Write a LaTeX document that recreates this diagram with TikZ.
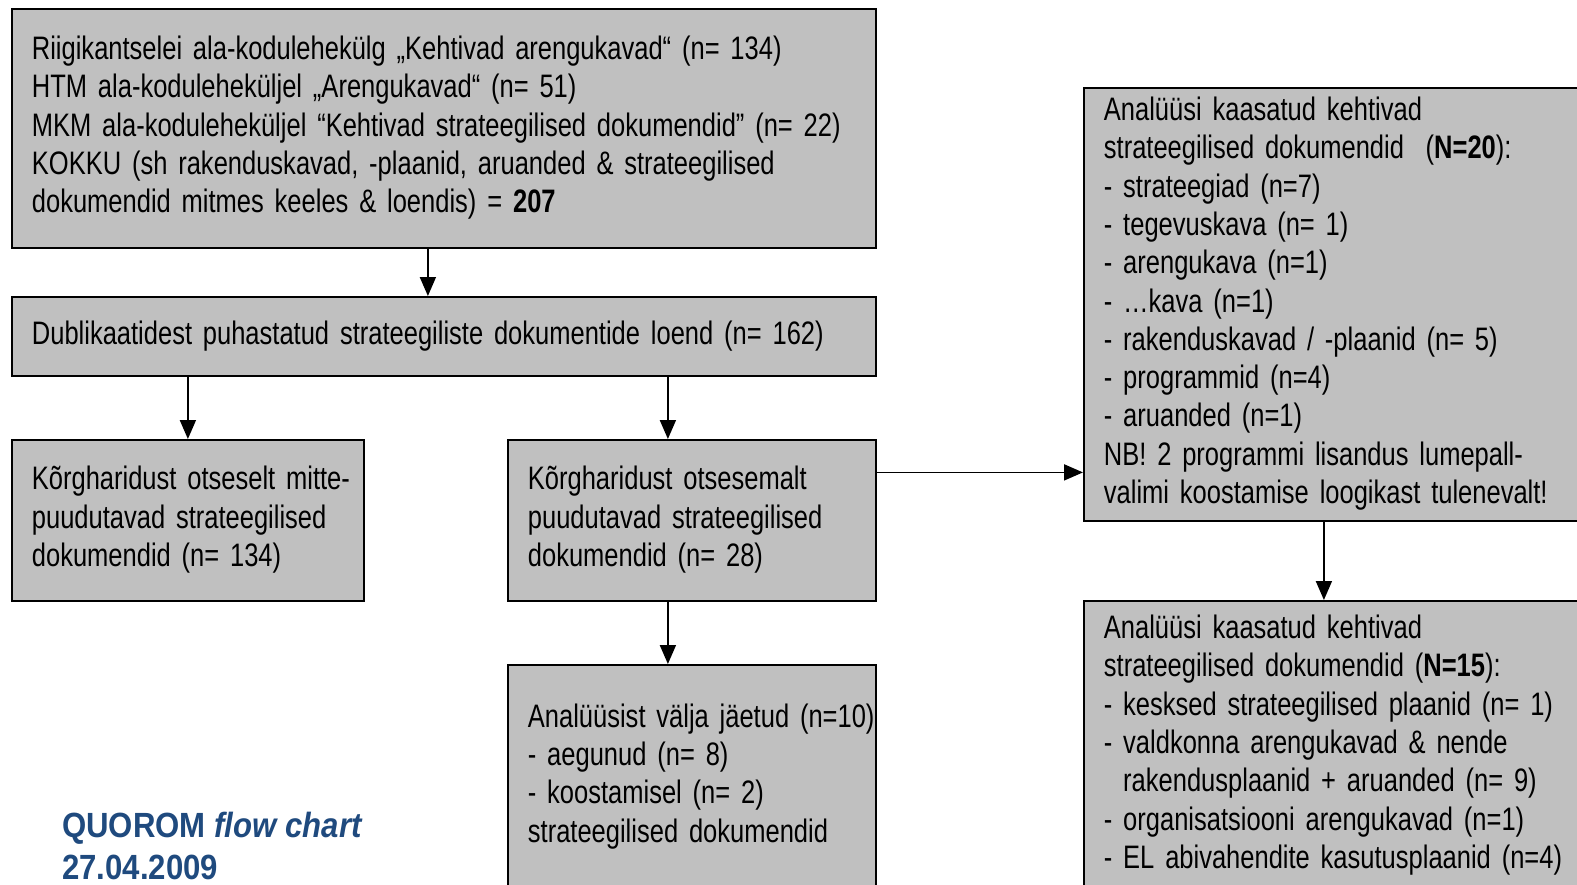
\documentclass[tikz,border=0pt]{standalone}
\usepackage{fontspec}
\setmainfont{Liberation Sans}[FakeStretch=0.785]
\newfontfamily\titlefont{Liberation Sans}[FakeStretch=0.89]
\usetikzlibrary{arrows.meta}
\definecolor{boxgray}{HTML}{C0C0C0}
\definecolor{quorom}{HTML}{1F4A7E}
\newcommand\boxfont{\fontsize{32.5}{38.3}\selectfont}
\newcommand\boxlines[1]{\begin{tabular}{@{}l@{}}#1\end{tabular}}

\begin{document}
\begin{tikzpicture}[x=1pt, y=-1pt, >={Triangle[length=19pt,width=16pt]},
    box/.style={draw=black, line width=1.8pt, fill=boxgray, rectangle, anchor=north west,
      inner xsep=20pt, inner ysep=0pt, align=left, font=\boxfont},
    link/.style={->, line width=1.8pt}]
    \useasboundingbox (0,0) rectangle (1577,884);
    \fill[white] (0,0) rectangle (1577,884);

    % Sources
    \node[box, text width=824pt, minimum height=239pt] (src) at (11,8)
      {\boxlines{Riigikantselei ala-kodulehekülg „Kehtivad arengukavad“ (n= 134)\\
       HTM ala-koduleheküljel „Arengukavad“ (n= 51)\\
       MKM ala-koduleheküljel “Kehtivad strateegilised dokumendid” (n= 22)\\
       KOKKU (sh rakenduskavad, -plaanid, aruanded \& strateegilised\\
       dokumendid mitmes keeles \& loendis) = \textbf{207}}};
    \node[box, text width=824pt, minimum height=79pt] (dedup) at (11,296)
      {\boxlines{Dublikaatidest puhastatud strateegiliste dokumentide loend (n= 162)}};

    % Split
    \node[box, text width=312pt, minimum height=161pt] (excl) at (11,439)
      {\boxlines{Kõrgharidust otseselt mitte-\\puudutavad strateegilised\\dokumendid (n= 134)}};
    \node[box, text width=328pt, minimum height=161pt] (incl) at (507,439)
      {\boxlines{Kõrgharidust otsesemalt\\puudutavad strateegilised\\dokumendid (n= 28)}};
    \node[box, text width=328pt, minimum height=224pt] (dropped) at (507,664)
      {\boxlines{Analüüsist välja jäetud (n=10)\\- aegunud (n= 8)\\- koostamisel (n= 2)\\strateegilised dokumendid}};

    % Included
    \node[box, text width=480pt, minimum height=433pt] (anal20) at (1083,87)
      {\boxlines{Analüüsi kaasatud kehtivad\\
       strateegilised dokumendid\ \ (\textbf{N=20}):\\
       - strateegiad (n=7)\\
       - tegevuskava (n= 1)\\
       - arengukava (n=1)\\
       - …kava (n=1)\\
       - rakenduskavad / -plaanid (n= 5)\\
       - programmid (n=4)\\
       - aruanded (n=1)\\
       NB! 2 programmi lisandus lumepall-\\
       valimi koostamise loogikast tulenevalt!}};
    \node[box, text width=480pt, minimum height=290pt] (anal15) at (1083,600)
      {\boxlines{Analüüsi kaasatud kehtivad\\
       strateegilised dokumendid (\textbf{N=15}):\\
       - kesksed strateegilised plaanid (n= 1)\\
       - valdkonna arengukavad \& nende\\
       \hphantom{-\ }rakendusplaanid + aruanded (n= 9)\\
       - organisatsiooni arengukavad (n=1)\\
       - EL abivahendite kasutusplaanid (n=4)}};

    \node[anchor=west, align=left, text=quorom, inner sep=0pt,
      font=\titlefont\fontsize{35}{42}\selectfont\bfseries] (title) at (62,846)
      {QUOROM \textit{flow chart}\\27.04.2009};

    % Arrows
    \draw[link] ([xshift=-16pt]src.south) -- ([xshift=-16pt]dedup.north);
    \draw[link] (dedup.south -| excl.north) -- (excl.north);
    \draw[link] ([xshift=-24pt]dedup.south -| incl.north) -- ([xshift=-24pt]incl.north);
    \draw[link] ([xshift=-24pt]incl.south) -- ([xshift=-24pt]dropped.north);
    \draw[link] ([yshift=48pt]incl.east) -- ([yshift=48pt]incl.east -| anal20.west);
    \draw[link] ([xshift=-20pt]anal20.south) -- ([xshift=-20pt]anal15.north);
\end{tikzpicture}
\end{document}
